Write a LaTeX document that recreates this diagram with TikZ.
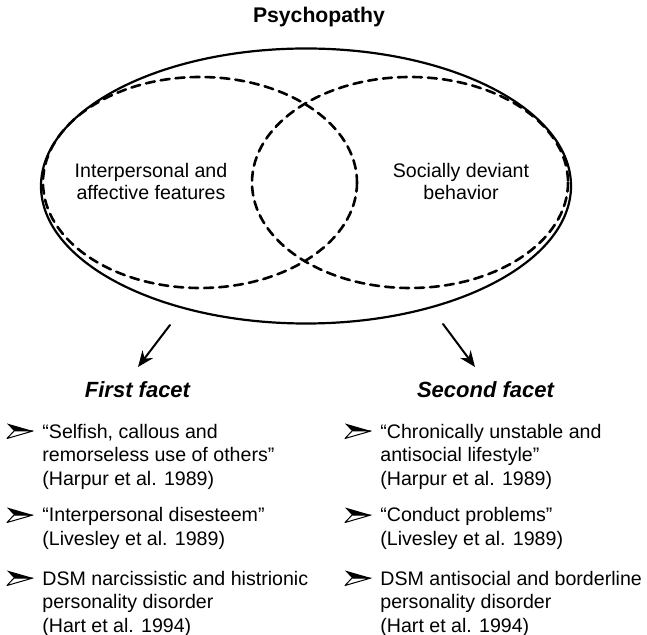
\documentclass[tikz,border=0pt]{standalone}
\usepackage{fontspec}
\setmainfont{Liberation Sans}
\usetikzlibrary{arrows.meta}

\begin{document}
\begin{tikzpicture}[x=0.5pt,y=-0.5pt,>={Stealth[length=8pt,width=6.5pt]}, line join=round, line cap=round,
    title/.style={font=\fontsize{10.6}{12}\selectfont\bfseries, anchor=base, inner sep=0pt},
    facet/.style={font=\fontsize{11}{13}\selectfont\bfseries\itshape, anchor=base, inner sep=0pt},
    feat/.style={font=\fontsize{9.8}{11}\selectfont, align=center, anchor=base, inner sep=0pt},
    item/.style={font=\fontsize{9.8}{11.75}\selectfont, align=left, anchor=base west, inner sep=0pt},
    bubble/.style={line width=1.3pt, dash pattern=on 4.5pt off 3pt},
    bulletdart/.pic={
        \fill (0,-7.5)--(26,0)--(7,0)--cycle;
        \draw[line width=0.5pt] (7,0)--(26,0)--(0,7.5)--cycle;}]
    \useasboundingbox (0,0) rectangle (647,635);
    \node[title] (psy) at (319,23) {Psychopathy};
    % the two facets inside psychopathy
    \draw[line width=1.1pt] (306,186) ellipse [x radius=265, y radius=137.5];
    \draw[bubble] (200,182.5) ellipse [x radius=157, y radius=105.5];
    \draw[bubble] (410,182.5) ellipse [x radius=158, y radius=105.5];
    \node[feat] (inter) at (151,200) {Interpersonal and\\affective features};
    \node[feat] (social) at (461,200) {Socially deviant\\behavior};
    \coordinate (from1) at (170,325);
    \coordinate (to1) at (138,367);
    \coordinate (from2) at (443,324);
    \coordinate (to2) at (475,367);
    \draw[->, line width=1pt] (from1) -- (to1);
    \draw[->, line width=1pt] (from2) -- (to2);
    \node[facet] (first) at (137.5,398) {First facet};
    \node[facet] (second) at (485.5,398) {Second facet};
    % lists (base = last line)
    \node[item] (l1) at (42,485) {“Selfish, callous and\\remorseless use of others”\\(Harpur et al. 1989)};
    \node[item] (l2) at (42,545) {“Interpersonal disesteem”\\(Livesley et al. 1989)};
    \node[item] (l3) at (42,632) {DSM narcissistic and histrionic\\personality disorder\\(Hart et al. 1994)};
    \node[item] (r1) at (380,485) {“Chronically unstable and\\antisocial lifestyle”\\(Harpur et al. 1989)};
    \node[item] (r2) at (380,545) {“Conduct problems”\\(Livesley et al. 1989)};
    \node[item] (r3) at (380,632) {DSM antisocial and borderline\\personality disorder\\(Hart et al. 1994)};
    \foreach \y in {431,515,578} {
        \pic at (7,\y) {bulletdart};
        \pic at (345,\y) {bulletdart};
    }
\end{tikzpicture}
\end{document}
